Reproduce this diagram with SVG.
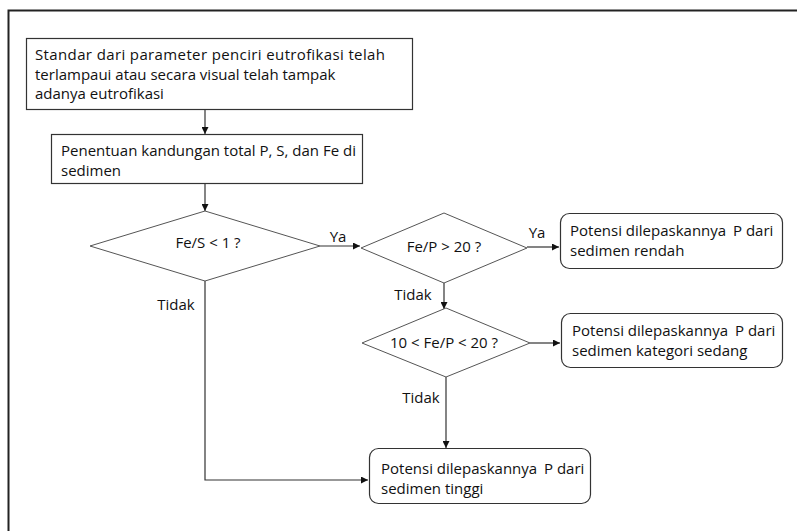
<svg xmlns="http://www.w3.org/2000/svg" width="797" height="531" viewBox="0 0 797 531">
  <style>
    text { font-family: "Open Sans", "Liberation Sans", sans-serif; font-size: 15px; fill: #111; }
    .box { fill: #fff; stroke: #333; stroke-width: 1.2; }
    .dia { fill: #fff; stroke: #555; stroke-width: 1; }
    .line { fill: none; stroke: #333; stroke-width: 1.2; }
    .mid { text-anchor: middle; }
  </style>
  <defs>
    <marker id="arrow" viewBox="0 0 10 10" refX="10" refY="5" markerWidth="7" markerHeight="7" markerUnits="userSpaceOnUse" orient="auto">
      <path d="M0,0 L10,5 L0,10 z" fill="#111"/>
    </marker>
  </defs>

  <rect width="797" height="531" fill="#fff"/>
  <!-- outer frame -->
  <rect x="8.5" y="10.5" width="800" height="530" fill="none" stroke="#222" stroke-width="2"/>

  <g id="connectors">
    <line class="line" x1="205" y1="109" x2="205" y2="134" marker-end="url(#arrow)"/>
    <line class="line" x1="205" y1="183" x2="205" y2="211" marker-end="url(#arrow)"/>
    <line class="line" x1="320" y1="246" x2="360" y2="246" marker-end="url(#arrow)"/>
    <line class="line" x1="527" y1="247" x2="559" y2="247" marker-end="url(#arrow)"/>
    <line class="line" x1="444" y1="283" x2="444" y2="309" marker-end="url(#arrow)"/>
    <line class="line" x1="530" y1="343" x2="560" y2="343" marker-end="url(#arrow)"/>
    <line class="line" x1="446" y1="377" x2="446" y2="448" marker-end="url(#arrow)"/>
    <polyline class="line" points="205,281 205,480 368,480" marker-end="url(#arrow)"/>
    <text x="338" y="242" class="mid">Ya</text>
    <text x="537" y="238" class="mid">Ya</text>
    <text x="176" y="310" class="mid">Tidak</text>
    <text x="413" y="300" class="mid">Tidak</text>
    <text x="421" y="403" class="mid">Tidak</text>
  </g>

  <g id="start">
    <rect class="box" x="26.5" y="38.5" width="386" height="71"/>
    <text x="35" y="60" textLength="350" lengthAdjust="spacing">Standar dari parameter penciri eutrofikasi telah</text>
    <text x="35" y="80">terlampaui atau secara visual telah tampak</text>
    <text x="35" y="99">adanya eutrofikasi</text>
  </g>

  <g id="measure">
    <rect class="box" x="51.5" y="134.5" width="311" height="49"/>
    <text x="61" y="156">Penentuan kandungan total P, S, dan Fe di</text>
    <text x="61" y="176">sedimen</text>
  </g>

  <g id="check-fe-s">
    <polygon class="dia" points="205,211 320,246 205,281 90,246"/>
    <text x="208" y="248" class="mid">Fe/S &lt; 1 ?</text>
  </g>

  <g id="check-fe-p-high">
    <polygon class="dia" points="444,213 527,248 444,283 361,248"/>
    <text x="444" y="252" class="mid">Fe/P &gt; 20 ?</text>
  </g>

  <g id="check-fe-p-mid">
    <polygon class="dia" points="446,308 530,343 446,377 362,343"/>
    <text x="444" y="348" class="mid">10 &lt; Fe/P &lt; 20 ?</text>
  </g>

  <g id="result-low">
    <rect class="box" x="560.5" y="213.5" width="222" height="55" rx="9"/>
    <text x="570" y="236">Potensi dilepaskannya<tspan x="733">P dari</tspan></text>
    <text x="570" y="256">sedimen rendah</text>
  </g>

  <g id="result-medium">
    <rect class="box" x="561.5" y="313.5" width="221" height="54" rx="9"/>
    <text x="572" y="336">Potensi dilepaskannya<tspan x="735">P dari</tspan></text>
    <text x="572" y="356">sedimen kategori sedang</text>
  </g>

  <g id="result-high">
    <rect class="box" x="369.5" y="448.5" width="221" height="55" rx="9"/>
    <text x="381" y="474">Potensi dilepaskannya<tspan x="544">P dari</tspan></text>
    <text x="381" y="494">sedimen tinggi</text>
  </g>
</svg>
